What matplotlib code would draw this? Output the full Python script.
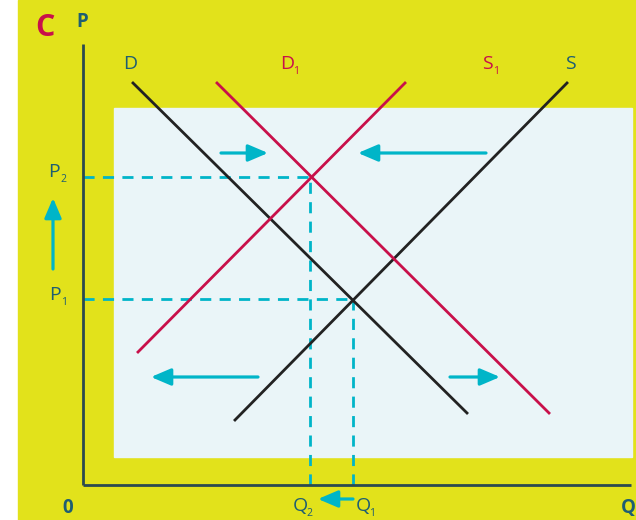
import matplotlib.pyplot as plt
from matplotlib.patches import Rectangle

# supply / demand lines as (Q, P) end points
d_q = [1.00, 7.68]
d_p = [8.04, 1.44]
d1_q = [2.68, 9.32]
d1_p = [8.04, 1.44]
s_q = [3.04, 9.68]
s_p = [1.30, 8.04]
s1_q = [1.10, 6.44]
s1_p = [2.66, 8.04]

# equilibria
q_eq = [5.40, 4.54]
p_eq = [3.72, 6.16]

# shift arrows: (start Q, start P, end Q, end P)
shift_arrows = [
    (2.76, 6.64, 3.70, 6.64),
    (8.06, 6.64, 5.50, 6.64),
    (3.50, 2.16, 1.36, 2.16),
    (7.34, 2.16, 8.34, 2.16),
    (-0.60, 4.32, -0.60, 5.74),
    (5.40, -0.28, 4.70, -0.28),
]

YELLOW = '#e2e21b'
PANEL = '#eaf5f8'
RED = '#c8104a'
DARK = '#222222'
CYAN = '#00b5c8'
TEAL = '#1e5e72'
AXIS = '#2b4a4f'

plt.rcParams['font.family'] = ['Open Sans', 'DejaVu Sans']

fig = plt.figure(figsize=(6.36, 5.2), dpi=100, facecolor='white')
ax = fig.add_axes([0, 0, 1, 1])
ax.set_xlim(-1.66, 11.06)
ax.set_ylim(-0.7, 9.7)
ax.axis('off')

# backgrounds
ax.add_patch(Rectangle((-1.30, -0.7), 12.5, 10.4, color=YELLOW, zorder=0))
ax.add_patch(Rectangle((0.62, 0.56), 10.36, 6.98, color=PANEL, zorder=1))

# axes
ax.plot([0, 0], [0, 8.82], color=AXIS, lw=2, zorder=3, solid_capstyle='butt')
ax.plot([0, 10.96], [0, 0], color=AXIS, lw=2, zorder=3, solid_capstyle='butt')

# dashed guides
for q, p in zip(q_eq, p_eq):
    ax.plot([0, q], [p, p], color=CYAN, lw=2, ls=(0, (4, 3)), zorder=2)
    ax.plot([q, q], [0, p], color=CYAN, lw=2, ls=(0, (4, 3)), zorder=2)

# curves
ax.plot(d_q, d_p, color=DARK, lw=2, zorder=4)
ax.plot(s_q, s_p, color=DARK, lw=2, zorder=4)
ax.plot(d1_q, d1_p, color=RED, lw=2, zorder=4)
ax.plot(s1_q, s1_p, color=RED, lw=2, zorder=4)

for x0, y0, x1, y1 in shift_arrows:
    ax.annotate('', xy=(x1, y1), xytext=(x0, y0),
                arrowprops=dict(arrowstyle='-|>,head_length=0.75,head_width=0.32',
                                color=CYAN, lw=2.3, shrinkA=0, shrinkB=0,
                                mutation_scale=16),
                zorder=5)


def label(x, y, text, sub=None, color=TEAL, size=14, weight='normal'):
    ax.text(x, y, text, color=color, fontsize=size, fontweight=weight,
            ha='center', va='center', zorder=6)
    if sub:
        ax.text(x + 0.19, y - 0.15, sub, color=color, fontsize=7.5,
                ha='center', va='center', zorder=6)


label(-0.76, 9.14, 'C', color=RED, size=22, weight='bold')
label(-0.02, 9.26, 'P', size=13.5, weight='bold')
label(0.94, 8.42, 'D')
label(4.08, 8.42, 'D', '1', color=RED)
label(8.08, 8.42, 'S', '1', color=RED)
label(9.74, 8.42, 'S')
label(-0.58, 6.26, 'P', '2')
label(-0.56, 3.80, 'P', '1')
label(-0.30, -0.46, '0', size=13.5, weight='bold')
label(4.34, -0.42, 'Q', '2')
label(5.60, -0.42, 'Q', '1')
label(10.90, -0.46, 'Q', size=13.5, weight='bold')

fig.savefig('out.png', dpi=100, facecolor='white')
